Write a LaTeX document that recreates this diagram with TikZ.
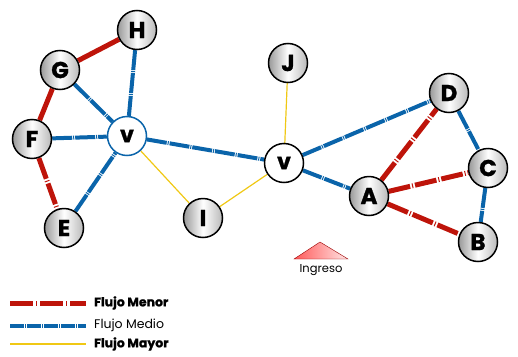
\documentclass[tikz,border=0pt]{standalone}
\usepackage{fontspec}
\setmainfont{Poppins}
\newfontfamily\heavy{Poppins}[FakeBold=1.2]
\usetikzlibrary{backgrounds}
\definecolor{rojo}{RGB}{190,20,10}
\definecolor{azul}{RGB}{10,100,170}
\definecolor{amarillo}{RGB}{240,200,20}
\begin{document}
\begin{tikzpicture}[x=1pt,y=-1pt,
  nd/.style={circle,draw=black,line width=1.5pt,minimum size=39pt,inner sep=0pt,
    left color=gray!80,right color=gray!55,middle color=white,
    font=\heavy\bfseries\fontsize{23}{23}\selectfont},
  hub/.style={circle,line width=1.5pt,fill=white,minimum size=39pt,inner sep=0pt,
    font=\heavy\bfseries\fontsize{22}{22}\selectfont},
  menor/.style={draw=rojo,line width=5pt,dash pattern=on 22pt off 2pt on 1pt off 2pt},
  menorsolid/.style={draw=rojo,line width=5pt},
  medio/.style={draw=azul,line width=4pt,dash pattern=on 20pt off 1pt on 1pt off 1pt},
  mayor/.style={draw=amarillo,line width=1.2pt},
  leg/.style={anchor=west,font=\heavy\bfseries\fontsize{12.5}{12.5}\selectfont,inner sep=0pt}]
\useasboundingbox (0,0) rectangle (518,356);
% nodes
\node[nd] (H) at (137,30) {H};
\node[nd] (G) at (60,70) {G};
\node[nd] (F) at (32,139) {F};
\node[nd] (E) at (64,228) {E};
\node[hub,draw=azul] (V1) at (127,136) {v};
\node[nd] (I) at (203,218) {I};
\node[nd] (J) at (288,63) {J};
\node[hub,draw=black] (V2) at (284,163) {v};
\node[nd] (D) at (449,93) {D};
\node[nd] (C) at (488,168) {C};
\node[nd] (A) at (369,196) {A};
\node[nd] (B) at (478,242) {B};
% edges
\begin{scope}[on background layer]
\draw[menorsolid] (H) -- (G);
\draw[menorsolid] (G) -- (F);
\draw[menor] (F) -- (E);
\draw[menor] (A) -- (D);
\draw[menor] (A) -- (C);
\draw[menor] (A) -- (B);
\draw[medio] (G) -- (V1);
\draw[medio] (H) -- (V1);
\draw[medio] (F) -- (V1);
\draw[medio] (E) -- (V1);
\draw[medio] (V1) -- (V2);
\draw[medio] (V2) -- (D);
\draw[medio] (V2) -- (A);
\draw[medio] (D) -- (C);
\draw[medio] (C) -- (B);
\draw[mayor] (V1) -- (I);
\draw[mayor] (I) -- (V2);
\draw[mayor] (J) -- (V2);
\end{scope}
% ingreso
\coordinate (t1) at (294,259);
\coordinate (t2) at (320,242);
\coordinate (t3) at (348,259);
\shade[left color=red!65,right color=red!10,draw=red!60!black,line width=0.4pt] (t1) -- (t2) -- (t3) -- cycle;
\node[font=\fontsize{11.5}{11.5}\selectfont,inner sep=0pt] (ing) at (321,270) {Ingreso};
% legend
\coordinate (r1) at (10,303); \coordinate (r2) at (86,303);
\coordinate (b1) at (10,326); \coordinate (b2) at (86,326);
\coordinate (y1) at (10,344); \coordinate (y2) at (86,344);
\draw[menor,dash pattern=on 23pt off 3pt on 1pt off 3pt] (r1) -- (r2);
\draw[medio,dash pattern=on 14pt off 1pt on 1pt off 1pt] (b1) -- (b2);
\draw[mayor] (y1) -- (y2);
\node[leg] (lr) at (94,303) {Flujo Menor};
\node[leg,font=\fontsize{12.5}{12.5}\selectfont] (lb) at (94,325) {Flujo Medio};
\node[leg] (ly) at (94,344) {Flujo Mayor};
\end{tikzpicture}
\end{document}
